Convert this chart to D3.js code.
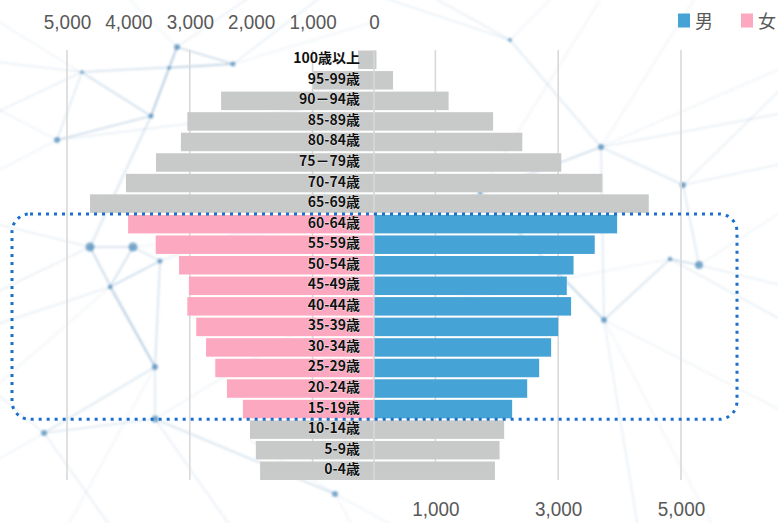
<!DOCTYPE html>
<html><head><meta charset="utf-8">
<script src="https://cdn.jsdelivr.net/npm/d3@7"></script>
<style>
html,body{margin:0;padding:0;background:#fff;}
svg{display:block;}
</style></head>
<body>
<svg id="chart" width="778" height="523"></svg>
<script>
// ---- data ----
const ages = ["100歳以上","95-99歳","90－94歳","85-89歳","80-84歳","75－79歳","70-74歳","65-69歳","60-64歳","55-59歳","50-54歳","45-49歳","40-44歳","35-39歳","30-34歳","25-29歳","20-24歳","15-19歳","10-14歳","5-9歳","0-4歳"];
const female = [260,990,2490,3040,3145,3550,4040,4625,4005,3555,3175,3015,3040,2895,2735,2585,2395,2135,2020,1925,1855];
const male   = [40,310,1215,1940,2415,3050,3720,4475,3960,3595,3250,3140,3210,3000,2885,2690,2495,2250,2120,2045,1970];
const highlighted = ["60-64歳","55-59歳","50-54歳","45-49歳","40-44歳","35-39歳","30-34歳","25-29歳","20-24歳","15-19歳"];
const topTicks = [5000,4000,3000,2000,1000,0];
const bottomTicks = [1000,3000,5000];
const gridTicks = [-5000,-3000,-1000,0,1000,3000,5000];
const legendItems = [{name:"男", color:"#46a3d6"},{name:"女", color:"#fda8c1"}];

// decorative background network (not data)
const bgNodes = [[177,47,3],[233,64,2.5],[169,68,1.8],[82,72,1.8],[151,116,2.5],[57,140,3],[90,247,4.5],[133,247,4.5],[160,261,2.5],[110,287,2.2],[155,367,3],[155,419,3.5],[44,433,3],[335,494,3],[510,40,2],[601,147,3],[480,193,2],[670,259,2.2],[699,265,4],[604,320,3],[683,185,3]];
const bgEdges = [[0,4],[0,2],[2,4],[0,1],[1,3],[3,4],[4,5],[5,3],[4,6],[6,7],[7,8],[6,9],[9,10],[10,11],[11,12],[8,9],[11,13],[14,15],[15,16],[15,19],[19,17],[17,18],[18,20],[20,15],[16,19],[2,1],[6,10],[7,9],[8,10],[12,10]];
const bgOuter = [[0,[260,-10]],[0,[120,-10]],[3,[-20,60]],[5,[-20,180]],[6,[-20,220]],[7,[300,230]],[9,[-20,330]],[10,[60,540]],[11,[240,540]],[12,[-20,470]],[12,[120,540]],[13,[420,540]],[14,[420,-10]],[14,[560,-10]],[15,[800,110]],[15,[700,-10]],[18,[800,290]],[18,[800,200]],[19,[640,540]],[19,[800,420]],[20,[800,160]],[17,[450,300]],[16,[380,230]],[13,[250,440]],[5,[300,110]],[11,[300,330]],[1,[330,-10]],[1,[380,20]],[3,[-20,120]],[5,[-20,100]],[6,[-20,300]],[9,[-20,400]],[12,[-20,380]],[13,[360,540]],[14,[360,-10]],[15,[800,60]],[17,[800,330]],[19,[720,540]],[20,[780,90]],[16,[600,0]],[8,[330,200]],[4,[-20,10]]];

const W = 778, H = 523;
const svg = d3.select("#chart");

const x = d3.scaleLinear().domain([-5000, 5000]).range([67, 681]);
const y = d3.scaleBand().domain(ages).range([49.5, 481]).paddingInner(0.1).paddingOuter(0.05);

// background decoration
const defs = svg.append("defs");
defs.append("filter").attr("id","soft").append("feGaussianBlur").attr("stdDeviation",0.9);
const bg = svg.append("g").attr("filter","url(#soft)");
bgEdges.forEach(([a,b],i)=>{
  bg.append("line").attr("x1",bgNodes[a][0]).attr("y1",bgNodes[a][1]).attr("x2",bgNodes[b][0]).attr("y2",bgNodes[b][1])
    .attr("stroke","#4f86b3").attr("stroke-opacity", i%3===0?0.3:0.2).attr("stroke-width", i%4===0?2:1.5);
});
bgOuter.forEach(([a,p],i)=>{
  bg.append("line").attr("x1",bgNodes[a][0]).attr("y1",bgNodes[a][1]).attr("x2",p[0]).attr("y2",p[1])
    .attr("stroke","#6a98c0").attr("stroke-opacity", i%2===0?0.16:0.1).attr("stroke-width",1.5);
});
bg.selectAll("circle").data(bgNodes).join("circle")
  .attr("cx",d=>d[0]).attr("cy",d=>d[1]).attr("r",d=>d[2])
  .attr("fill","#2f76ad").attr("fill-opacity",0.6);

// gridlines
svg.append("g").selectAll("line").data(gridTicks).join("line")
  .attr("x1",d=>x(d)).attr("x2",d=>x(d)).attr("y1",50).attr("y2",480)
  .attr("stroke","#d9d9d9").attr("stroke-width",1.6);

const rows = ages.map((a,i)=>({age:a, f:female[i], m:male[i], hl: highlighted.includes(a)}));

// bars
const bars = svg.append("g");
bars.selectAll("rect.f").data(rows).join("rect").attr("class","f")
  .attr("x",d=>x(-d.f)).attr("width",d=>x(0)-x(-d.f)-0.5)
  .attr("y",d=>y(d.age)).attr("height",y.bandwidth())
  .attr("fill",d=>d.hl?"#fda8c1":"#c8c9c9");
bars.selectAll("rect.m").data(rows).join("rect").attr("class","m")
  .attr("x",x(0)+0.5).attr("width",d=>x(d.m)-x(0)-0.5)
  .attr("y",d=>y(d.age)).attr("height",y.bandwidth())
  .attr("fill",d=>d.hl?"#46a3d6":"#c8c9c9");

// dotted highlight frame
const gap = y.step()-y.bandwidth();
const fTop = y(highlighted[0]) - gap/2;
const fBot = y(highlighted[highlighted.length-1]) + y.bandwidth() + gap/2;
svg.append("rect").attr("x",12).attr("y",fTop).attr("width",737-12).attr("height",fBot-fTop)
  .attr("rx",18).attr("ry",18).attr("fill","none")
  .attr("stroke","#1a6fc8").attr("stroke-width",3).attr("stroke-dasharray","3 5");

// category labels
const yAxis = svg.append("g").attr("transform","translate(360,-1)")
  .call(d3.axisLeft(y).tickSize(0).tickPadding(0));
yAxis.select(".domain").remove();
yAxis.selectAll("text")
  .attr("font-family","'Noto Sans CJK JP','Noto Sans',sans-serif")
  .attr("font-size",14).attr("font-weight","bold").attr("fill","#111")
  .attr("stroke","#fff").attr("stroke-width",0.6).attr("paint-order","stroke");

// top axis (female, reversed)
const topAxis = svg.append("g").attr("transform","translate(0,28.5)")
  .call(d3.axisTop(x).tickValues(topTicks.map(v=>-v)).tickSize(0).tickPadding(0).tickFormat(v=>d3.format(",")(Math.abs(v))));
topAxis.select(".domain").remove();
topAxis.selectAll("text").attr("font-family","'Liberation Sans',Arial,sans-serif").attr("font-size",21)
  .attr("fill","#595959").attr("transform","scale(0.9,1)");

// bottom axis (male)
const botAxis = svg.append("g").attr("transform","translate(0,515.5)")
  .call(d3.axisBottom(x).tickValues(bottomTicks).tickSize(0).tickPadding(0).tickFormat(d3.format(",")));
botAxis.select(".domain").remove();
botAxis.selectAll("text").attr("y",0).attr("dy",null).attr("font-family","'Liberation Sans',Arial,sans-serif").attr("font-size",21)
  .attr("fill","#595959").attr("transform","scale(0.9,1)");

// legend
const lg = svg.append("g");
const lx = d3.scalePoint().domain(legendItems.map(d=>d.name)).range([678,741]);
legendItems.forEach(d=>{
  lg.append("rect").attr("x",lx(d.name)).attr("y",13.5).attr("width",12).attr("height",14).attr("fill",d.color);
  lg.append("text").attr("x",lx(d.name)+17).attr("y",27.5).text(d.name)
    .attr("font-family","'Noto Sans CJK JP',sans-serif").attr("font-size",18).attr("fill","#595959");
});
</script>
</body></html>
